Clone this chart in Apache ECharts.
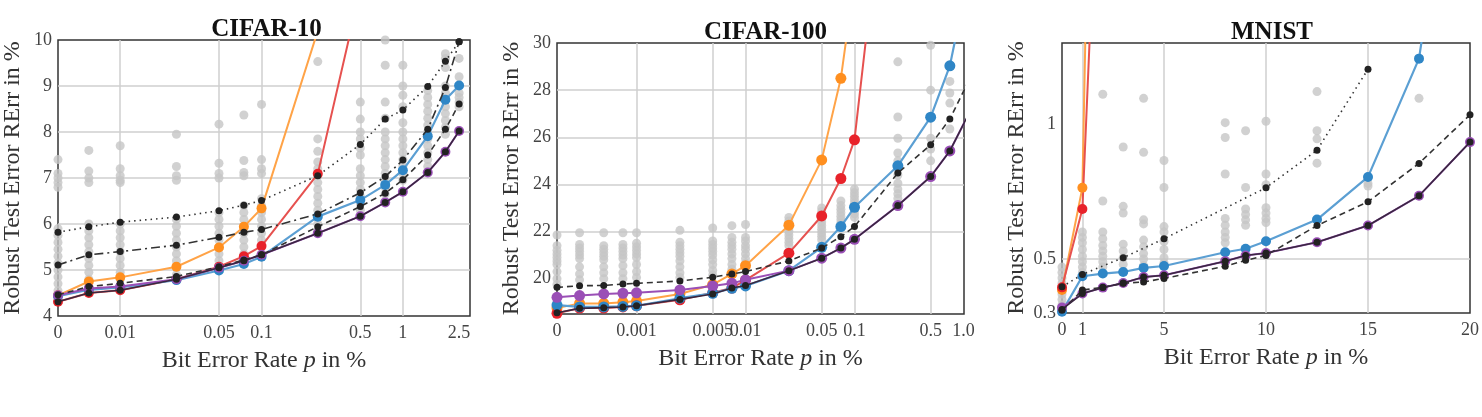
<!DOCTYPE html>
<html><head><meta charset="utf-8">
<script src="https://cdn.jsdelivr.net/npm/echarts@6/dist/echarts.min.js"></script>
<style>html,body{margin:0;background:#fff}#c{width:1482px;height:417px}</style>
</head><body><div id="c"></div>
<script>
// ---------- CIFAR-10 ----------
const c10P = [0, 0.006, 0.01, 0.025, 0.05, 0.075, 0.1, 0.25, 0.5, 0.75, 1, 1.5, 2, 2.5];
const c10Ticks = [0, 0.01, 0.05, 0.1, 0.5, 1, 2.5];
const c10TickLabels = ['0', '0.01', '0.05', '0.1', '0.5', '1', '2.5'];
const c10YTicks = [4, 5, 6, 7, 8, 9, 10];
const c10Orange = [4.45, 4.75, 4.84, 5.07, 5.49, 5.94, 6.34, 10.2];
const c10Red = [4.31, 4.5, 4.56, 4.8, 5.07, 5.3, 5.52, 7.09, 11.1];
const c10Blue = [4.43, 4.57, 4.62, 4.78, 4.99, 5.13, 5.29, 6.16, 6.52, 6.85, 7.17, 7.91, 8.7, 9.01];
const c10Purple = [4.45, 4.6, 4.64, 4.8, 5.05, 5.2, 5.33, 5.8, 6.17, 6.47, 6.7, 7.12, 7.57, 8.02];
const c10Solid = [4.31, 4.5, 4.56, 4.8, 5.05, 5.2, 5.33, 5.8, 6.17, 6.47, 6.7, 7.12, 7.57, 8.02];
const c10Dashed = [4.46, 4.64, 4.71, 4.86, 5.07, 5.22, 5.33, 5.94, 6.38, 6.67, 6.96, 7.5, 8.06, 8.61];
const c10DashDot = [5.11, 5.33, 5.4, 5.54, 5.71, 5.82, 5.88, 6.22, 6.68, 7.03, 7.39, 8.06, 8.97, 9.96];
const c10Dotted = [5.82, 5.94, 6.04, 6.15, 6.29, 6.41, 6.51, 7.05, 7.73, 8.28, 8.48, 8.99, 9.54, 9.96];
const c10Gray = [
  [7.4, 7.1, 7.0, 6.9, 6.8, 5.9, 5.75, 5.6, 5.45, 5.3, 5.15, 5.0, 4.85, 4.7, 4.55],
  [7.6, 7.15, 7.0, 6.9, 6.0, 5.85, 5.7, 5.55, 5.4, 5.25, 5.1, 4.95, 4.8, 4.65],
  [7.7, 7.2, 7.05, 6.95, 6.9, 6.0, 5.85, 5.7, 5.55, 5.4, 5.25, 5.1, 4.95, 4.8],
  [7.95, 7.25, 7.05, 6.95, 6.1, 5.95, 5.8, 5.65, 5.5, 5.35, 5.2, 5.05, 4.9],
  [8.17, 7.32, 7.1, 7.0, 6.25, 6.1, 5.95, 5.8, 5.65, 5.5, 5.35, 5.2, 5.05],
  [8.37, 7.38, 7.12, 7.05, 6.4, 6.25, 6.1, 5.95, 5.8, 5.65, 5.5, 5.35, 5.2],
  [8.6, 7.4, 7.2, 7.1, 6.55, 6.4, 6.25, 6.1, 5.95, 5.8, 5.65, 5.5, 5.35],
  [9.53, 7.85, 7.58, 7.35, 7.2, 7.05, 6.9, 6.75, 6.6, 6.45, 6.3, 6.15, 6.0, 5.85],
  [8.65, 8.28, 8.0, 7.85, 7.65, 7.5, 7.2, 7.05, 6.9, 6.75, 6.6, 6.45, 6.3],
  [10.0, 9.45, 8.65, 8.3, 8.0, 7.85, 7.7, 7.55, 7.4, 7.25, 7.1, 6.95, 6.8, 6.65],
  [9.45, 9.0, 8.8, 8.55, 8.2, 8.0, 7.85, 7.7, 7.55, 7.4, 7.25, 7.1, 6.95],
  [8.9, 8.75, 8.6, 8.45, 8.3, 8.15, 8.0, 7.85, 7.7, 7.55, 7.4, 7.25],
  [9.7, 9.6, 9.4, 9.0, 8.85, 8.7, 8.55, 8.4, 8.25, 8.1, 7.95],
  [9.6, 9.2, 8.85, 8.75, 8.65, 8.55]
];

// ---------- CIFAR-100 ----------
const c100P = [0, 0.0003, 0.0005, 0.00075, 0.001, 0.0025, 0.005, 0.0075, 0.01, 0.025, 0.05, 0.075, 0.1, 0.25, 0.5, 0.75, 1.5];
const c100Ticks = [0, 0.001, 0.005, 0.01, 0.05, 0.1, 0.5, 1];
const c100TickLabels = ['0', '0.001', '0.005', '0.01', '0.05', '0.1', '0.5', '1.0'];
const c100YTicks = [20, 22, 24, 26, 28, 30];
const c100Orange = [18.75, 18.95, 18.95, 19.0, 19.05, 19.35, 19.75, 20.2, 20.55, 22.27, 25.04, 28.5, 32.7];
const c100Red = [18.53, 18.75, 18.75, 18.8, 18.85, 19.1, 19.4, 19.6, 19.94, 21.08, 22.66, 24.25, 25.89, 42.0];
const c100Blue = [18.88, 18.8, 18.8, 18.82, 18.85, 19.17, 19.38, 19.59, 19.69, 20.34, 21.33, 22.21, 23.03, 24.79, 26.85, 29.03, 35.8];
const c100Purple = [19.21, 19.28, 19.35, 19.38, 19.4, 19.52, 19.69, 19.8, 19.95, 20.34, 20.87, 21.3, 21.67, 23.1, 24.33, 25.42, 28.15];
const c100Solid = [18.55, 18.74, 18.77, 18.8, 18.85, 19.12, 19.35, 19.6, 19.71, 20.34, 20.87, 21.3, 21.67, 23.1, 24.33, 25.42, 28.15];
const c100Dashed = [19.63, 19.7, 19.71, 19.77, 19.8, 19.9, 20.06, 20.2, 20.3, 20.75, 21.3, 21.78, 22.21, 24.48, 25.68, 26.77, 29.6];
const c100Gray = [
  [21.85, 21.4, 21.2, 21.05, 20.9, 20.75, 20.6, 20.3, 20.0, 19.75],
  [21.95, 21.45, 21.3, 21.15, 21.0, 20.85, 20.5, 20.2, 19.95],
  [21.95, 21.4, 21.25, 21.1, 20.95, 20.8, 20.5, 20.25, 20.0],
  [21.95, 21.45, 21.3, 21.15, 21.0, 20.85, 20.55, 20.25, 20.0],
  [21.95, 21.5, 21.35, 21.2, 21.05, 20.9, 20.6, 20.3, 20.05],
  [22.05, 21.55, 21.4, 21.25, 21.1, 20.95, 20.75, 20.5, 20.25, 20.05],
  [22.15, 21.6, 21.45, 21.3, 21.15, 21.0, 20.8, 20.6, 20.35, 20.15],
  [22.25, 21.75, 21.55, 21.4, 21.25, 21.05, 20.85, 20.6, 20.4],
  [22.3, 21.75, 21.6, 21.4, 21.25, 21.05, 20.85, 20.65],
  [22.6, 22.45, 22.3, 22.15, 22.0, 21.85, 21.7, 21.55, 21.4],
  [23.0, 22.85, 22.7, 22.55, 22.4, 22.25, 22.1, 21.95, 21.8, 21.65],
  [23.3, 23.1, 22.95, 22.8, 22.65, 22.5, 22.35, 22.2],
  [23.8, 23.65, 23.5, 23.35, 23.2, 23.05, 22.9, 22.75, 22.6],
  [29.2, 26.86, 25.96, 25.33, 25.0, 24.7, 24.4, 24.05, 23.8, 23.6, 23.4],
  [29.9, 28.0, 25.96, 25.5, 25.0],
  [28.37, 27.88, 27.45, 26.35],
  []
];

// ---------- MNIST ----------
const mnP = [0, 1, 2, 3, 4, 5, 8, 9, 10, 12.5, 15, 17.5, 20];
const mnTicks = [0, 1, 5, 10, 15, 20];
const mnYTicks = [0.3, 0.5, 1];
const mnOrange = [0.385, 0.764, 4.6];
const mnRed = [0.395, 0.685, 2.45];
const mnBlue = [0.305, 0.436, 0.446, 0.452, 0.467, 0.474, 0.525, 0.538, 0.566, 0.646, 0.804, 1.242, 2.5];
const mnPurple = [0.32, 0.372, 0.394, 0.411, 0.433, 0.44, 0.492, 0.513, 0.522, 0.562, 0.624, 0.734, 0.933];
const mnSolid = [0.313, 0.372, 0.394, 0.411, 0.433, 0.44, 0.492, 0.513, 0.522, 0.562, 0.624, 0.734, 0.933];
const mnDashed = [0.31, 0.385, 0.395, 0.41, 0.415, 0.428, 0.473, 0.495, 0.513, 0.624, 0.712, 0.854, 1.034];
const mnDotted = [0.397, 0.443, null, 0.505, null, 0.575, null, null, 0.764, 0.903, 1.203];
const mnGray = [
  [0.47, 0.45, 0.43, 0.41, 0.39, 0.37, 0.35, 0.33],
  [0.6, 0.58, 0.56, 0.535, 0.51, 0.49, 0.47, 0.45],
  [1.11, 0.715, 0.6, 0.575, 0.55, 0.53, 0.51, 0.49, 0.47],
  [0.915, 0.695, 0.67, 0.555, 0.53, 0.505, 0.48],
  [1.095, 0.895, 0.645, 0.63, 0.57, 0.545, 0.52, 0.5, 0.475],
  [0.865, 0.765, 0.62, 0.6, 0.565, 0.535, 0.505, 0.485],
  [1.005, 0.95, 0.815, 0.65, 0.625, 0.6, 0.58, 0.56],
  [0.975, 0.765, 0.685, 0.665, 0.645, 0.625],
  [1.01, 0.815, 0.775, 0.69, 0.67, 0.65, 0.635],
  [1.12, 0.975, 0.945, 0.855],
  [0.78, 0.77],
  [1.095],
  []
];

// ---------- 样式 ----------
const FONT = "'Liberation Serif', 'DejaVu Serif', serif";
const GRID_C = '#cfcfcf';
const ORANGE = '#ff8f1f', ORANGE_L = '#ffa347';
const RED = '#e8222a', RED_L = '#e6514f';
const BLUE = '#2f86c6', BLUE_L = '#5b9fd3';
const PURPLE = '#9a4fb6';
const BLACK = '#222';

// log 轴位置:p=0 放在左边界的固定位置
function logPos(zeroT) {
  return (p) => (p === 0 ? zeroT : Math.log10(p));
}

const panels = [
  {
    title: 'CIFAR-10', grid: { left: 53, top: 40, width: 417, height: 276 },
    pos: logPos(-2.44), xMax: 0.475, P: c10P, ticks: c10Ticks, tickLabels: c10TickLabels,
    yMin: 4, yMax: 10, yTicks: c10YTicks, big: 10,
    gray: c10Gray, orange: c10Orange, red: c10Red, blue: c10Blue, purple: c10Purple,
    solid: c10Solid, dashed: c10Dashed, dashdot: c10DashDot, dotted: c10Dotted
  },
  {
    title: 'CIFAR-100', grid: { left: 557, top: 43, width: 407, height: 271 },
    pos: logPos(-3.73), xMax: 0.005, P: c100P, ticks: c100Ticks, tickLabels: c100TickLabels,
    yMin: 18.5, yMax: 30, yTicks: c100YTicks, big: 11,
    gray: c100Gray, orange: c100Orange, red: c100Red, blue: c100Blue, purple: c100Purple,
    solid: c100Solid, dashed: c100Dashed
  },
  {
    title: 'MNIST', grid: { left: 1062, top: 43, width: 410, height: 270 },
    pos: (p) => p, xMax: 20, P: mnP, ticks: mnTicks, tickLabels: mnTicks.map(String),
    yMin: 0.3, yMax: 1.3, yTicks: mnYTicks, big: 10,
    gray: mnGray, orange: mnOrange, red: mnRed, blue: mnBlue, purple: mnPurple,
    solid: mnSolid, dashed: mnDashed, dotted: mnDotted
  }
];

const option = {
  animation: false,
  backgroundColor: '#fff',
  title: [], grid: [], xAxis: [], yAxis: [], series: []
};

function pts(pan, vals) {
  const out = [];
  vals.forEach((v, i) => { if (v != null) out.push([pan.pos(pan.P[i]), v]); });
  return out;
}

panels.forEach((pan, k) => {
  const g = pan.grid;
  option.title.push({
    text: pan.title, left: g.left + g.width / 2, top: g.top - 28, textAlign: 'center',
    textStyle: { fontFamily: FONT, fontWeight: 'bold', fontSize: 25, color: '#111' }
  });
  option.grid.push({ left: g.left, top: g.top, width: g.width, height: g.height,
    show: true, borderColor: '#333', borderWidth: 1.5, backgroundColor: 'transparent' });

  const xVals = pan.ticks.map(pan.pos);
  option.xAxis.push({
    type: 'value', gridIndex: k, min: pan.pos(0), max: pan.xMax,
    name: 'Bit Error Rate {i|p} in %', nameLocation: 'middle', nameGap: 33,
    nameTextStyle: { fontFamily: FONT, fontSize: 24, color: '#333',
      rich: { i: { fontFamily: FONT, fontSize: 24, fontStyle: 'italic', color: '#333' } } },
    axisLine: { show: false },
    axisTick: { show: false, customValues: xVals },
    axisLabel: {
      customValues: xVals, margin: 8, fontFamily: FONT, fontSize: 18, color: '#444',
      formatter: (v) => {
        const i = xVals.findIndex((t) => Math.abs(t - v) < 1e-6);
        return i >= 0 ? pan.tickLabels[i] : '';
      }
    },
    splitLine: { show: true, showMinLine: false, showMaxLine: false,
      lineStyle: { color: GRID_C, width: 1.5 } }
  });
  option.yAxis.push({
    type: 'value', gridIndex: k, min: pan.yMin, max: pan.yMax,
    name: 'Robust Test Error RErr in %', nameLocation: 'middle', nameGap: 33, nameRotate: 90,
    nameTextStyle: { fontFamily: FONT, fontSize: 24, color: '#333' },
    axisLine: { show: false },
    axisTick: { show: false, customValues: pan.yTicks },
    axisLabel: { customValues: pan.yTicks, margin: 6, fontFamily: FONT, fontSize: 18, color: '#444' },
    splitLine: { show: true, showMinLine: false, showMaxLine: false,
      lineStyle: { color: GRID_C, width: 1.5 } }
  });

  // 灰点:所有模型
  const grayPts = [];
  pan.gray.forEach((col, i) => col.forEach((v) => grayPts.push([pan.pos(pan.P[i]), v])));
  option.series.push({ type: 'scatter', xAxisIndex: k, yAxisIndex: k, data: grayPts,
    symbolSize: 9, itemStyle: { color: '#c6c6c6' }, z: 1, clip: true });

  const line = (vals, lineColor, dotColor, size, width, type, z) => ({
    type: 'line', xAxisIndex: k, yAxisIndex: k, data: pts(pan, vals), clip: true,
    symbol: 'circle', symbolSize: size, showSymbol: true, connectNulls: true, z,
    lineStyle: { color: lineColor, width, type },
    itemStyle: { color: dotColor, borderWidth: 0 }
  });

  option.series.push(line(pan.orange, ORANGE_L, ORANGE, pan.big, 2, 'solid', 3));
  option.series.push(line(pan.red, RED_L, RED, pan.big, 2, 'solid', 3));
  option.series.push(line(pan.blue, BLUE_L, BLUE, pan.big, 2.2, 'solid', 3));
  option.series.push(line(pan.purple, PURPLE, PURPLE, pan.big, 2, 'solid', 3));
  if (pan.dotted) option.series.push(line(pan.dotted, '#333', BLACK, 7, 1.6, [1.5, 4], 5));
  if (pan.dashdot) option.series.push(line(pan.dashdot, '#333', BLACK, 7, 1.6, [9, 4, 2, 4], 5));
  option.series.push(line(pan.dashed, '#333', BLACK, 7, 1.6, [6, 4], 5));
  option.series.push(line(pan.solid, '#3a2840', BLACK, 7, 1.6, 'solid', 6));
});

const chart = echarts.init(document.getElementById('c'), null, { renderer: 'canvas' });
chart.setOption(option);
</script>
</body></html>
